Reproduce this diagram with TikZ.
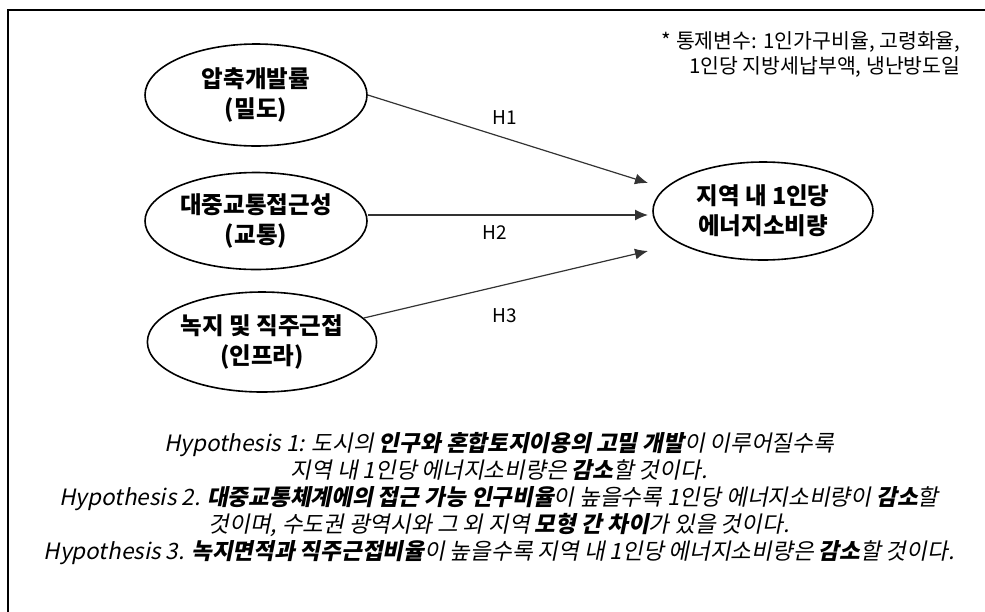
\documentclass[tikz,border=0pt]{standalone}
\usepackage{fontspec}
\setmainfont{Noto Sans CJK KR}
\newfontfamily\hypfont[FakeSlant=0.2,BoldFeatures={FakeSlant=0.2}]{Noto Sans CJK KR}
\usetikzlibrary{arrows.meta,shapes.geometric}
\begin{document}
\begin{tikzpicture}[x=1pt,y=-1pt,>={Latex[length=13pt,width=11pt]}]
  \tikzset{var/.style={draw, ellipse, line width=1.6pt, inner sep=0pt, minimum width=222pt, minimum height=102pt, align=center, font=\fontsize{23.5}{30}\selectfont\bfseries},
    link/.style={->, line width=1.2pt, draw=black!80},
    hlabel/.style={font=\fontsize{19}{22}\selectfont}}
  \useasboundingbox (0,0) rectangle (985,611);
  \draw[line width=2.6pt] (8,615) -- (8,10) -- (990,10);
  \node[var] (dens) at (256,95) {압축개발률\\(밀도)};
  \node[var, minimum height=97pt] (trans) at (256,221) {대중교통접근성\\(교통)};
  \node[var, minimum width=220pt, minimum height=100pt] (infra) at (262,342) {녹지 및 직주근접\\(인프라)};
  \node[var, minimum width=220pt, minimum height=98pt] (energy) at (763,211) {지역 내 1인당\\에너지소비량};
  \coordinate (in1) at (648,183);
  \coordinate (in2) at (648,215);
  \coordinate (in3) at (648,251);
  \draw[link] (dens.east) -- (in1);
  \draw[link] (trans.east |- in2) -- (in2);
  \draw[link] (infra) -- (in3);
  \node[hlabel] (h1) at (505,118) {H1};
  \node[hlabel] (h2) at (495,233) {H2};
  \node[hlabel] (h3) at (505,316) {H3};
  \node[anchor=north east, align=right, font=\fontsize{20.5}{25}\selectfont] (ctrl) at (964,28) {* 통제변수: 1인가구비율, 고령화율,\\1인당 지방세납부액, 냉난방도일};
  \node[align=center, font=\hypfont\fontsize{22.5}{27}\selectfont] (hyp) at (499,499) {Hypothesis 1: 도시의 \textbf{인구와 혼합토지이용의 고밀 개발}이 이루어질수록\\
    지역 내 1인당 에너지소비량은 \textbf{감소}할 것이다.\\
    Hypothesis 2. \textbf{대중교통체계에의 접근 가능 인구비율}이 높을수록 1인당 에너지소비량이 \textbf{감소}할\\
    것이며, 수도권 광역시와 그 외 지역 \textbf{모형 간 차이}가 있을 것이다.\\
    Hypothesis 3. \textbf{녹지면적과 직주근접비율}이 높을수록 지역 내 1인당 에너지소비량은 \textbf{감소}할 것이다.};
\end{tikzpicture}
\end{document}
